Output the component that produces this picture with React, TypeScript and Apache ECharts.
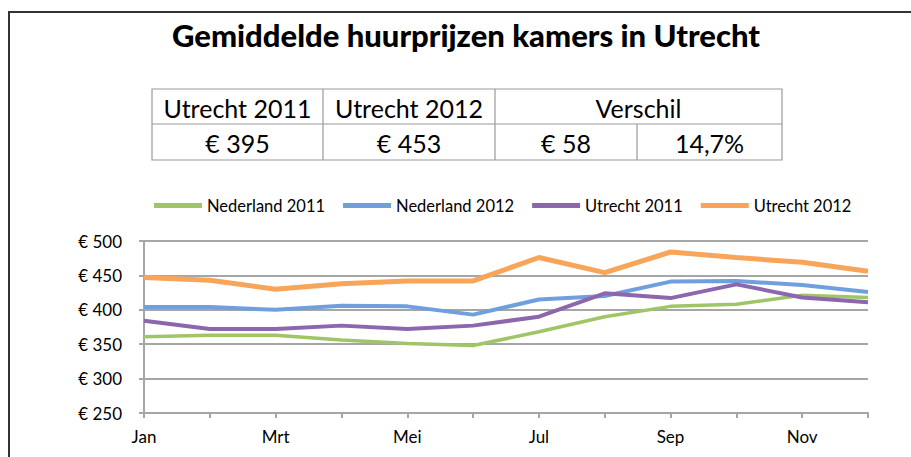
import React, { useEffect, useRef } from "react";
import * as echarts from "echarts";

const months = ["Jan", "Feb", "Mrt", "Apr", "Mei", "Jun", "Jul", "Aug", "Sep", "Okt", "Nov", "Dec"];
const nederland2011 = [361, 363, 363, 356, 351, 348, 368, 390, 405, 408, 421, 418];
const nederland2012 = [404, 404, 400, 406, 405, 393, 415, 420, 441, 442, 436, 426];
const utrecht2011 = [384, 372, 372, 377, 372, 377, 390, 424, 417, 437, 418, 411];
const utrecht2012 = [447, 443, 430, 438, 442, 442, 476, 454, 484, 476, 469, 456];
const yTicks = { min: 250, max: 500, interval: 50 };

const titleText = "Gemiddelde huurprijzen kamers in Utrecht";
const tableHeaders = ["Utrecht 2011", "Utrecht 2012", "Verschil"];
const tableValues = ["€ 395", "€ 453", "€ 58", "14,7%"];

const FONT = "Lato, 'Noto Sans', sans-serif";

export default function App() {
  const ref = useRef<HTMLDivElement>(null);
  useEffect(() => {
    if (!ref.current) return;
    const chart = echarts.init(ref.current, null, { renderer: "svg" });
    const colX = [152, 323, 495, 637, 782];
    const rowY = [89, 124, 160];
    const lineStyle = { stroke: "#9a9a9a", lineWidth: 1.2 };
    const tableGraphics: any[] = [];
    tableGraphics.push({ type: "rect", shape: { x: colX[0], y: rowY[0], width: colX[4] - colX[0], height: rowY[2] - rowY[0] }, style: { fill: "none", ...lineStyle } });
    tableGraphics.push({ type: "line", shape: { x1: colX[0], y1: rowY[1], x2: colX[4], y2: rowY[1] }, style: lineStyle });
    tableGraphics.push({ type: "line", shape: { x1: colX[1], y1: rowY[0], x2: colX[1], y2: rowY[2] }, style: lineStyle });
    tableGraphics.push({ type: "line", shape: { x1: colX[2], y1: rowY[0], x2: colX[2], y2: rowY[2] }, style: lineStyle });
    tableGraphics.push({ type: "line", shape: { x1: colX[3], y1: rowY[1], x2: colX[3], y2: rowY[2] }, style: lineStyle });
    const headerSpans = [[0, 1], [1, 2], [2, 4]];
    tableHeaders.forEach((t, i) => {
      const [a, b] = headerSpans[i];
      tableGraphics.push({ type: "text", x: (colX[a] + colX[b]) / 2, y: (rowY[0] + rowY[1]) / 2 + 1, style: { text: t, fill: "#000", font: `25px ${FONT}`, textAlign: "center", textVerticalAlign: "middle" } });
    });
    tableValues.forEach((t, i) => {
      tableGraphics.push({ type: "text", x: (colX[i] + colX[i + 1]) / 2, y: (rowY[1] + rowY[2]) / 2 + 1, style: { text: t, fill: "#000", font: `25px ${FONT}`, textAlign: "center", textVerticalAlign: "middle" } });
    });

    const mk = (name: string, data: number[], color: string, width: number) => ({
      name,
      type: "line",
      data,
      symbol: "none",
      lineStyle: { color, width },
      itemStyle: { color },
      z: 3,
    });

    chart.setOption({
      animation: false,
      backgroundColor: "#fff",
      title: {
        text: titleText,
        left: 461,
        top: 14,
        textAlign: "center",
        textStyle: { fontFamily: FONT, fontWeight: 900, fontSize: 31, color: "#000" },
      },
      legend: {
        left: 154,
        top: 197,
        padding: 0,
        icon: "rect",
        itemWidth: 48,
        itemHeight: 5,
        itemGap: 18,
        textStyle: { fontFamily: FONT, fontSize: 16.5, color: "#000" },
        data: ["Nederland 2011", "Nederland 2012", "Utrecht 2011", "Utrecht 2012"],
      },
      grid: { left: 144, right: 43, top: 241, bottom: 44 },
      xAxis: {
        type: "category",
        data: months,
        boundaryGap: false,
        axisLine: { lineStyle: { color: "#a6a6a6", width: 2 } },
        axisTick: { show: true, length: 5, interval: 0, lineStyle: { color: "#a6a6a6", width: 2 } },
        axisLabel: { interval: 1, color: "#000", fontFamily: FONT, fontSize: 17, margin: 15 },
      },
      yAxis: {
        type: "value",
        min: yTicks.min,
        max: yTicks.max,
        interval: yTicks.interval,
        axisLine: { show: true, lineStyle: { color: "#a6a6a6", width: 2 } },
        axisTick: { show: true, length: 5, lineStyle: { color: "#a6a6a6", width: 2 } },
        splitLine: { lineStyle: { color: "#a6a6a6", width: 2 } },
        axisLabel: { color: "#000", fontFamily: FONT, fontSize: 17, margin: 22, formatter: (v: number) => `€ ${v}` },
      },
      series: [
        mk("Nederland 2011", nederland2011, "#9fc567", 3.5),
        mk("Nederland 2012", nederland2012, "#6f9fdd", 4),
        mk("Utrecht 2011", utrecht2011, "#8d67ad", 4),
        mk("Utrecht 2012", utrecht2012, "#f8a55a", 5),
      ],
      graphic: [
        { type: "rect", shape: { x: 9, y: 12, width: 1000, height: 1000 }, style: { fill: "none", stroke: "#333", lineWidth: 2 }, z: 0 },
        ...tableGraphics,
      ],
    });
    return () => chart.dispose();
  }, []);
  return <div ref={ref} style={{ width: 911, height: 457, position: "absolute", left: 0, top: 0 }} />;
}
